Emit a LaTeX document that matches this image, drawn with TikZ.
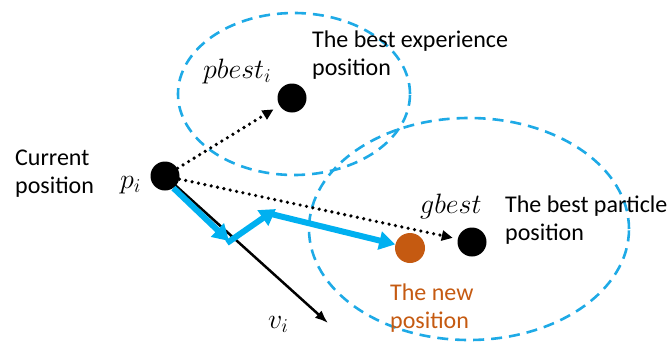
\RequirePackage{fix-cm}
\documentclass[tikz,border=0pt]{standalone}
\usepackage{fontspec}
\setmainfont{Carlito}
\usetikzlibrary{arrows.meta}
\definecolor{pblue}{HTML}{00B0F0}
\definecolor{eblue}{HTML}{1EAAE6}
\definecolor{porange}{HTML}{C55A11}
\tikzset{
  dot/.style={circle,fill=black,minimum size=29pt,inner sep=0pt},
  newdot/.style={circle,fill=porange,minimum size=30pt,inner sep=0pt},
  region/.style={draw=eblue,line width=2.6pt,dash pattern=on 11pt off 7pt},
  dotarrow/.style={line width=3.6pt,line cap=round,dash pattern=on 0pt off 6.5pt,
    -{Triangle[length=11pt,width=10pt,line cap=butt]}},
  velarrow/.style={line width=2.5pt,-{Latex[length=13pt,width=10pt]}},
  movearrow/.style={pblue,line width=6pt,-{Triangle[length=16pt,width=18pt]}},
  lbl/.style={font=\fontsize{24}{28}\selectfont,align=left,inner sep=0pt},
  mlbl/.style={font=\fontsize{28}{32}\selectfont,inner sep=0pt,anchor=base west},
}
\begin{document}
\begin{tikzpicture}[x=1pt,y=-1pt]
\useasboundingbox (0,0) rectangle (672,343);
% regions
\draw[region] (294,94) ellipse [x radius=116pt, y radius=81pt];
\draw[region] (469,229) ellipse [x radius=160pt, y radius=111pt];
% points
\node[dot] (p) at (165,176) {};
\node[dot] (pb) at (292,98) {};
\node[dot] (gb) at (472,242) {};
\node[newdot] (np) at (410,248) {};
\coordinate (vtip) at (328,323);
\coordinate (b1) at (229,241);
\coordinate (b1s) at (227,243);
\coordinate (b2) at (276,209);
\coordinate (b2s) at (267,213);
% arrows
\draw[dotarrow,shorten >=7pt] (p) -- (pb);
\draw[dotarrow,shorten >=5pt] (p) -- (gb);
\draw[velarrow] (p.center) -- (vtip);
\draw[movearrow] (p.-55) -- (b1);
\draw[movearrow] (b1s) -- (b2);
\draw[movearrow] (b2s) -- (np);
% labels
\node[lbl,anchor=north west] (tcur) at (15,150) {Current\\position};
\node[lbl,anchor=north west] (texp) at (312,31) {The best experience\\position};
\node[lbl,anchor=north west] (tpart) at (505,196) {The best particle\\position};
\node[lbl,anchor=north west,text=porange] (tnew) at (390,284) {The new\\position};
\node[mlbl] (mp) at (120,188) {$p_i$};
\node[mlbl] (mpb) at (203,78) {$pbest_i$};
\node[mlbl] (mgb) at (420,213) {$gbest$};
\node[mlbl] (mv) at (268,328) {$v_i$};
\end{tikzpicture}
\end{document}
